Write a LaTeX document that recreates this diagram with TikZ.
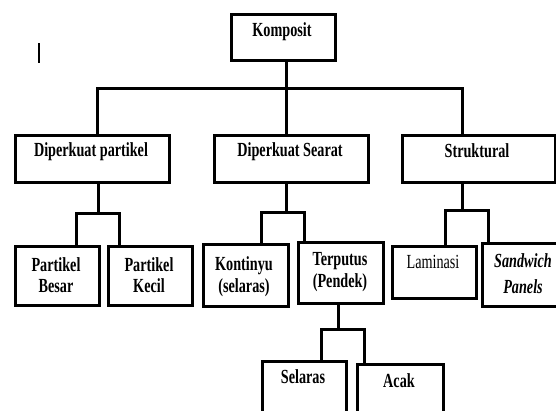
\documentclass[tikz,border=0pt]{standalone}
\usepackage{fontspec}
\setmainfont{Liberation Serif}[FakeStretch=0.71]
\begin{document}
\begin{tikzpicture}[x=1pt,y=-1pt,
  box/.style={draw, line width=3pt, inner sep=0pt, anchor=north west},
  conn/.style={line width=3pt},
  lbl/.style={anchor=base, inner sep=0pt, font=\fontsize{20}{22}\selectfont\bfseries},
  lblr/.style={anchor=base, inner sep=0pt, font=\fontsize{20}{22}\selectfont},
  lbli/.style={anchor=base, inner sep=0pt, font=\fontsize{20}{22}\selectfont\bfseries\itshape},
]
\clip (0,0) rectangle (556,410);
\fill[white] (0,0) rectangle (556,410);

% cursor mark
\draw[line width=1.5pt] (39,43) -- (39,63);

% boxes
\node[box, minimum width=104pt, minimum height=46pt] (komp) at (230,13) {};
\node[box, minimum width=154pt, minimum height=47pt] (dp) at (14,134) {};
\node[box, minimum width=154pt, minimum height=47pt] (ds) at (213,134) {};
\node[box, minimum width=153pt, minimum height=47pt] (st) at (401,134) {};
\node[box, minimum width=84pt, minimum height=59pt] (pb) at (14,245) {};
\node[box, minimum width=84pt, minimum height=59pt] (pk) at (107,245) {};
\node[box, minimum width=85pt, minimum height=62pt] (ks) at (202,243) {};
\node[box, minimum width=85pt, minimum height=61pt] (tp) at (297,241) {};
\node[box, minimum width=84pt, minimum height=52pt] (lm) at (391,245) {};
\node[box, minimum width=85pt, minimum height=63pt] (sw) at (481,242) {};
\node[box, minimum width=84pt, minimum height=60pt] (sl) at (261,360) {};
\node[box, minimum width=86pt, minimum height=57pt] (ac) at (356,363) {};

% texts
\node[lbl] (tkomp) at (282,36) {Komposit};
\node[lbl] (tdp) at (91,156) {Diperkuat partikel};
\node[lbl] (tds) at (290,156) {Diperkuat Searat};
\node[lbl] (tst) at (477,157) {Struktural};
\node[lbl] (tpb1) at (56,271) {Partikel};
\node[lbl] (tpb2) at (56,292) {Besar};
\node[lbl] (tpk1) at (149,271) {Partikel};
\node[lbl] (tpk2) at (149,292) {Kecil};
\node[lbl] (tks1) at (244,270) {Kontinyu};
\node[lbl] (tks2) at (244,292) {(selaras)};
\node[lbl] (ttp1) at (340,265) {Terputus};
\node[lbl] (ttp2) at (340,287) {(Pendek)};
\node[lblr] (tlm) at (433,268) {Laminasi};
\node[lbli] (tsw1) at (523,267) {Sandwich};
\node[lbli] (tsw2) at (523,293) {Panels};
\node[lbl] (tsl) at (303,383) {Selaras};
\node[lbl] (tac) at (399,387) {Acak};

% top level connectors
\coordinate (b1) at (97,88);
\coordinate (b2) at (286,88);
\coordinate (b3) at (462,88);
\draw[conn] (komp.south -| b2) -- (ds.north -| b2);
\draw[conn] (dp.north -| b1) -- (b1) -- (b3) -- (st.north -| b3);

% Diperkuat partikel subtree
\coordinate (j1) at (98,213);
\coordinate (j1l) at (76,213);
\coordinate (j1r) at (119,213);
\draw[conn] (dp.south -| j1) -- (j1);
\draw[conn] (pb.north -| j1l) -- (j1l) -- (j1r) -- (pk.north -| j1r);

% Diperkuat Searat subtree
\coordinate (j2) at (286,212);
\coordinate (j2l) at (261,212);
\coordinate (j2r) at (304,212);
\draw[conn] (ds.south -| j2) -- (j2);
\draw[conn] (ks.north -| j2l) -- (j2l) -- (j2r) -- (tp.north -| j2r);

% Struktural subtree
\coordinate (j3) at (462,210);
\coordinate (j3l) at (445,210);
\coordinate (j3r) at (488,210);
\draw[conn] (st.south -| j3) -- (j3);
\draw[conn] (lm.north -| j3l) -- (j3l) -- (j3r) -- (sw.north -| j3r);

% Terputus subtree
\coordinate (j4) at (338,329);
\coordinate (j4l) at (321,329);
\coordinate (j4r) at (364,329);
\draw[conn] (tp.south -| j4) -- (j4);
\draw[conn] (sl.north -| j4l) -- (j4l) -- (j4r) -- (ac.north -| j4r);
\end{tikzpicture}
\end{document}
